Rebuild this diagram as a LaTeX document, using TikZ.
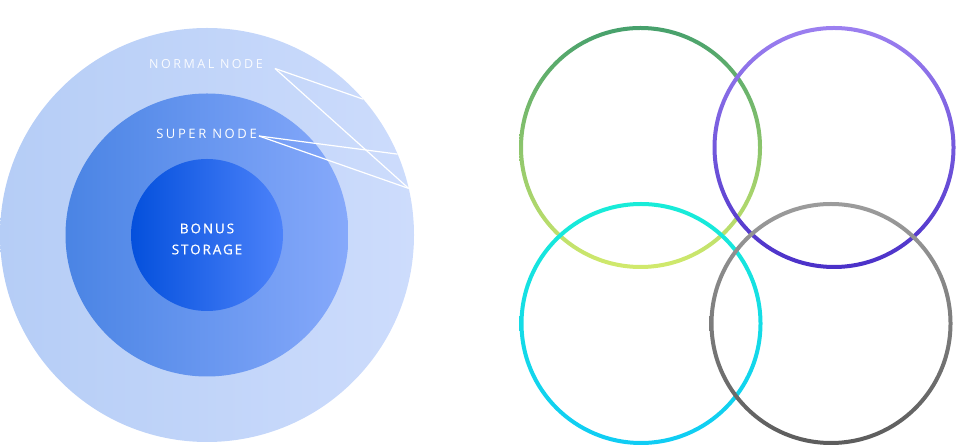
\documentclass[tikz,border=0pt]{standalone}
\usepackage{fontspec}
\setmainfont{Open Sans}
\newfontfamily\tagfont[LetterSpace=20]{Open Sans}
\newfontfamily\corefont[LetterSpace=14,FakeBold=0.6]{Open Sans}
\usetikzlibrary{positioning}

\definecolor{outerL}{HTML}{B5CDF6}
\definecolor{outerR}{HTML}{CDDCFC}
\definecolor{superL}{HTML}{4A84E4}
\definecolor{superR}{HTML}{86A9FB}
\definecolor{bonusL}{HTML}{0450DC}
\definecolor{bonusR}{HTML}{4C82FA}
\definecolor{greenT}{HTML}{46A06C}
\definecolor{greenB}{HTML}{D2EA6C}
\definecolor{violetT}{HTML}{9C80F0}
\definecolor{violetB}{HTML}{4A30C8}
\definecolor{cyanT}{HTML}{18ECD8}
\definecolor{cyanB}{HTML}{10CCF4}
\definecolor{greyT}{HTML}{9C9C9C}
\definecolor{greyB}{HTML}{5C5C5C}

\begin{document}
\begin{tikzpicture}[x=1pt,y=1pt,
  disc/.style={circle,inner sep=0,outer sep=0},
  tag/.style={text=white,font=\tagfont\fontsize{12.5}{14}\selectfont,inner sep=2pt},
  lead/.style={draw=white,line width=1.2pt}]
\useasboundingbox (0,0) rectangle (957,446);

% storage levels
\node[disc,minimum size=414pt,left color=outerL,right color=outerR] (outer) at (207,211) {};
\node[disc,minimum size=283pt,left color=superL,right color=superR] (super) at (207,211) {};
\node[disc,minimum size=152pt,left color=bonusL,right color=bonusR] (bonus) at (207,211) {};

% labels
\node[tag,text opacity=0.9] (normaltag) at (206,382) {NORMAL NODE};
\node[tag,font=\tagfont\fontsize{13}{14}\selectfont] (supertag) at (206.5,312) {SUPER NODE};
\node[tag,align=center,font=\corefont\fontsize{13.5}{21}\selectfont] (bonustag) at (207,207) {BONUS\\STORAGE};

% leaders
\path[lead] ([xshift=10pt]normaltag.base east) -- (outer.41.9);
\path[lead] ([xshift=10pt]normaltag.base east) -- (outer.13.1);
\path[lead] ([yshift=-2pt]supertag.east) -- (outer.23.3);
\path[lead] ([yshift=-2pt]supertag.east) -- (outer.13.1);

% rings
\newcommand\ringpair[4]{ \shade[top color=#3,bottom color=#4,even odd rule] (#1,#2) circle (121.5) (#1,#2) circle (117.5); }
\ringpair{640.5}{298.5}{greenT}{greenB}
\ringpair{834}{298.5}{violetT}{violetB}
\ringpair{641}{122.5}{cyanT}{cyanB}
\ringpair{831}{122.5}{greyT}{greyB}
\end{tikzpicture}
\end{document}
